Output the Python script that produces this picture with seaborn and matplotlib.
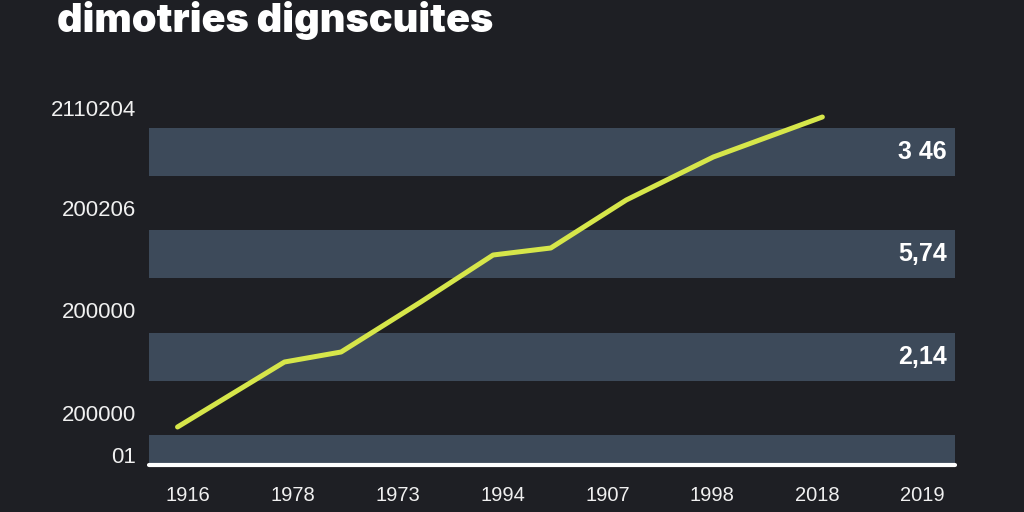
#----------------------------------------
# Dark stripe chart with a rising series
#----------------------------------------

import numpy as np
import pandas as pd
import matplotlib.pyplot as plt
import seaborn as sns

#%%
#--------------------DATA--------------------

title = "dimotries dignscuites"

x_labels = ["1916", "1978", "1973", "1994", "1907", "1998", "2018", "2019"]

y_labels = ["01", "200000", "200000", "200206", "2110204"]
y_ticks = [10, 52, 155, 257, 357]

# rising yellow series
line_x = [-0.10, 0.92, 1.46, 2.22, 2.91, 3.46, 4.18, 5.01, 6.05]
line_y = [38, 103, 113, 163, 210, 217, 265, 308, 348]

# horizontal stripes with their value labels
band_centre = [6, 108, 211, 313]
band_labels = ["", "2,14", "5,74", "3 46"]

#%%
#--------------------STYLE------------------------------------------

bg = "#1e1f24"
band_col = "#3d4a5a"
line_col = "#d6e64a"
txt_col = "#f0f0f0"

sns.set_theme(style="dark")
plt.rcParams['font.family'] = ['Liberation Sans', 'DejaVu Sans']

fig = plt.figure(figsize=(10.24, 5.12), dpi=100, facecolor=bg)
ax = fig.add_axes([149 / 1024, 47 / 512, 806 / 1024, 365 / 512])
ax.set_facecolor(bg)

x_pos = np.arange(len(x_labels))
ax.set_xlim(-0.372, 7.315)
ax.set_ylim(0, 365)

#%%
#--------------------DRAW-------------------------------------------

# stripes span the whole width
x_lo, x_hi = ax.get_xlim()
ax.barh(band_centre, width=x_hi - x_lo, left=x_lo, height=48,
        color=band_col, edgecolor="none", linewidth=0, zorder=1)

for c, lab in zip(band_centre, band_labels):
    if lab:
        ax.text(0.990, c, lab, transform=ax.get_yaxis_transform(),
                ha="right", va="center", color="white",
                fontsize=18, fontweight="bold", zorder=4)

df = pd.DataFrame({"x": line_x, "y": line_y})
sns.lineplot(data=df, x="x", y="y", ax=ax, color=line_col,
             linewidth=3.6, zorder=3)

# white baseline
ax.axhline(0, color="white", linewidth=3, zorder=5, clip_on=False)

ax.set_xticks(x_pos, x_labels)
ax.set_yticks(y_ticks, y_labels)
ax.tick_params(axis="x", length=0, pad=15, labelsize=14.5, colors=txt_col)
ax.tick_params(axis="y", length=0, pad=9, labelsize=16, colors=txt_col)
ax.set_xlabel("")
ax.set_ylabel("")
ax.grid(False)
for s in ax.spines.values():
    s.set_visible(False)

# title sits at the very top of the canvas
fig.text(57 / 1024, 1 - 32 / 512, title, ha="left", va="baseline",
         color="white", fontsize=28.5, fontweight="black", family="Inter")

plt.savefig("out.png", dpi=100, facecolor=bg)
